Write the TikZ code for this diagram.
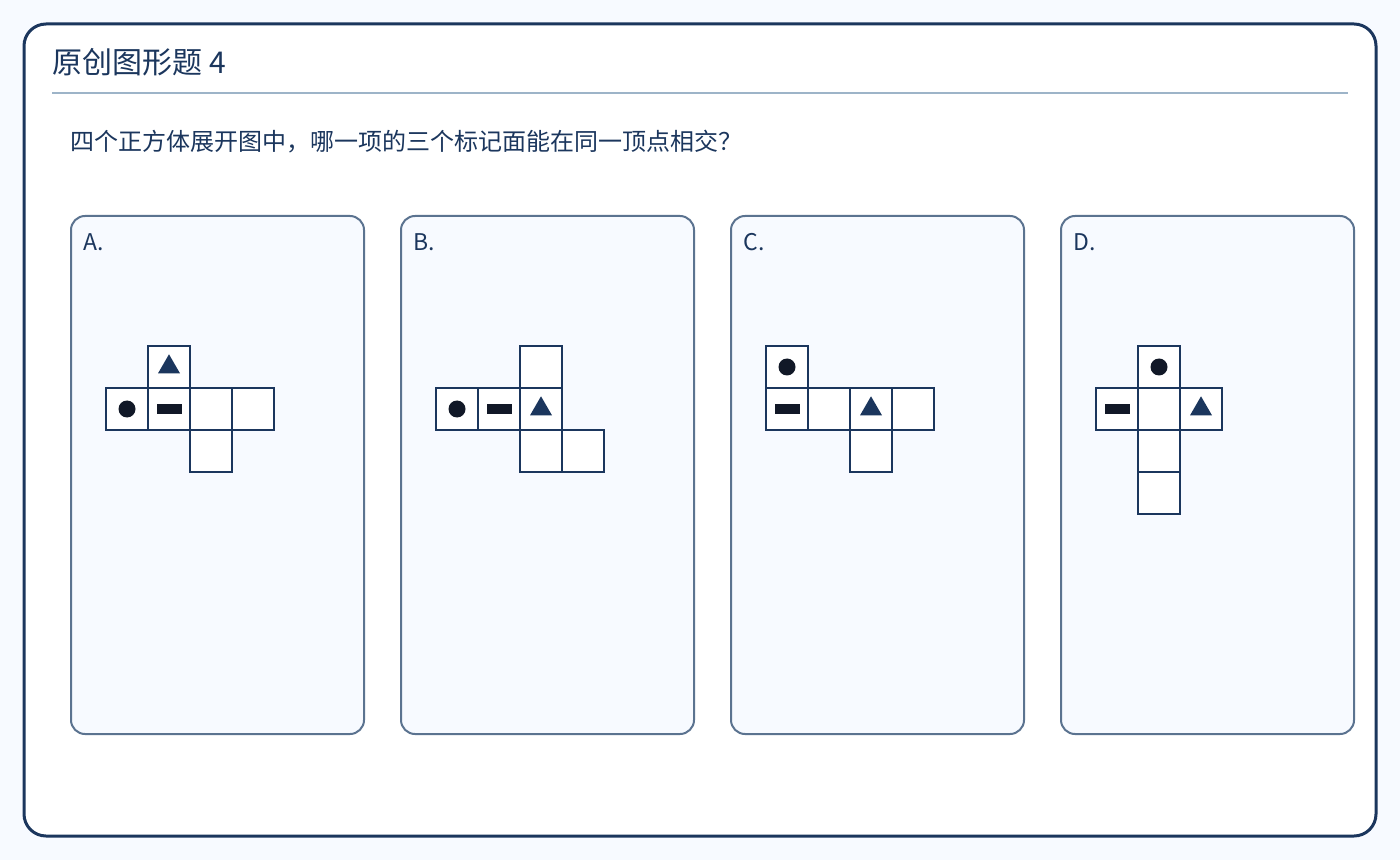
\documentclass[tikz,border=0pt]{standalone}
\usepackage{fontspec}
\setmainfont{Noto Sans CJK SC}
\usetikzlibrary{shapes.geometric}
\definecolor{navy}{HTML}{1B365D}
\definecolor{ink}{HTML}{111827}
\definecolor{cardline}{HTML}{5B7390}
\definecolor{pagebg}{HTML}{F7FAFF}
\definecolor{rulecol}{HTML}{9DB4C8}
\tikzset{
  cell/.style={draw=navy, line width=1pt, fill=white, minimum size=21pt, inner sep=0pt},
  dot/.style={circle, fill=ink, minimum size=8.5pt, inner sep=0pt},
  bar/.style={rectangle, fill=ink, minimum width=12.5pt, minimum height=5pt, inner sep=0pt},
  tri/.style={regular polygon, regular polygon sides=3, fill=navy, minimum size=12.7pt, inner sep=0pt},
  card/.style={draw=cardline, line width=1pt, fill=pagebg, rounded corners=7pt},
  optname/.style={anchor=base west, text=navy, font=\fontsize{11.5}{14}\selectfont, inner sep=0pt}
}
\begin{document}
\begin{tikzpicture}[x=0.5pt,y=-0.5pt]
\fill[pagebg] (0,0) rectangle (1400,860);
\draw[navy, line width=1.5pt, fill=white, rounded corners=11pt] (24,24) rectangle (1376,836);
\node[anchor=base west, text=navy, inner sep=0pt, font=\fontsize{15}{18}\selectfont] (title) at (52,74) {原创图形题 4};
\draw[rulecol, line width=0.75pt] (52,93) -- (1348,93);
\node[anchor=base west, text=navy, inner sep=0pt, font=\fontsize{12}{14}\selectfont] (question) at (70,151) {四个正方体展开图中，哪一项的三个标记面能在同一顶点相交？};
% cards
\draw[card] (71,216) rectangle (364,734);
\draw[card] (401,216) rectangle (694,734);
\draw[card] (731,216) rectangle (1024,734);
\draw[card] (1061,216) rectangle (1354,734);
\node[optname] (labA) at (83,251) {A.};
\node[optname] (labB) at (413,251) {B.};
\node[optname] (labC) at (743,251) {C.};
\node[optname] (labD) at (1073,251) {D.};
% net A
\node[cell] (a1) at (169,367) {};
\node[cell] (a2) at (127,409) {};
\node[cell] (a3) at (169,409) {};
\node[cell] (a4) at (211,409) {};
\node[cell] (a5) at (253,409) {};
\node[cell] (a6) at (211,451) {};
\node[tri] at (a1) {};
\node[dot] at (a2) {};
\node[bar] at (a3) {};
% net B
\node[cell] (b1) at (541,367) {};
\node[cell] (b2) at (457,409) {};
\node[cell] (b3) at (499,409) {};
\node[cell] (b4) at (541,409) {};
\node[cell] (b5) at (541,451) {};
\node[cell] (b6) at (583,451) {};
\node[dot] at (b2) {};
\node[bar] at (b3) {};
\node[tri] at (b4) {};
% net C
\node[cell] (c1) at (787,367) {};
\node[cell] (c2) at (787,409) {};
\node[cell] (c3) at (829,409) {};
\node[cell] (c4) at (871,409) {};
\node[cell] (c5) at (913,409) {};
\node[cell] (c6) at (871,451) {};
\node[dot] at (c1) {};
\node[bar] at (c2) {};
\node[tri] at (c4) {};
% net D
\node[cell] (d1) at (1159,367) {};
\node[cell] (d2) at (1117,409) {};
\node[cell] (d3) at (1159,409) {};
\node[cell] (d4) at (1201,409) {};
\node[cell] (d5) at (1159,451) {};
\node[cell] (d6) at (1159,493) {};
\node[dot] at (d1) {};
\node[bar] at (d2) {};
\node[tri] at (d4) {};
\end{tikzpicture}
\end{document}
